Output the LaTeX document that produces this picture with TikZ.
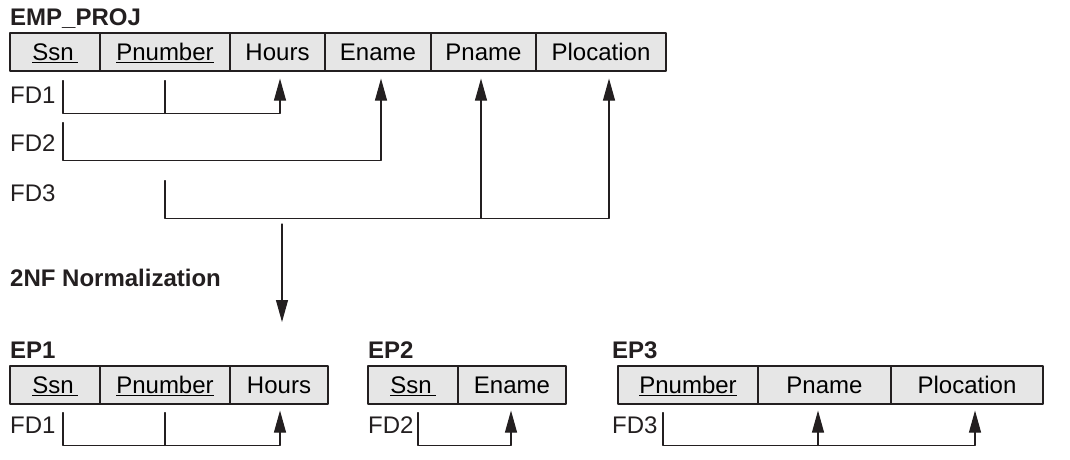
\documentclass[tikz,border=0pt]{standalone}
\usepackage{fontspec}
\setmainfont{Liberation Sans}
\usepackage{xcolor}
\usetikzlibrary{arrows.meta}
\definecolor{cellgray}{HTML}{E6E6E6}
\definecolor{ink}{HTML}{231F20}
\tikzset{
  cell/.style={draw=ink, fill=cellgray, line width=1.1pt, minimum height=38pt, inner sep=0pt,
    text height=17pt, text depth=0pt, font=\fontsize{24}{27}\selectfont},
  lbl/.style={anchor=base west, inner sep=0pt, text=ink, font=\fontsize{24}{27}\selectfont},
  ttl/.style={lbl, font=\fontsize{24}{27}\selectfont\bfseries},
  fd/.style={draw=ink, line width=1.1pt},
  fdarr/.style={fd, -{Triangle[length=22pt,width=12pt]}}
}
\begin{document}
\begin{tikzpicture}[x=1pt, y=-1pt, line cap=round, line join=round]
  \useasboundingbox (0,0) rectangle (1070,460);
  \foreach \nm/\a/\b/\y/\t in {s1/10/100/52/\underline{Ssn\,},p1/100/230/52/\underline{Pnumber},
      h1/230/325/52/Hours,e1/325/431/52/Ename,n1/431/536/52/Pname,l1/536/666/52/Plocation,
      s2/10/100/385/\underline{Ssn\,},p2/100/230/385/\underline{Pnumber},h2/230/328/385/Hours,
      s3/368/458/385/\underline{Ssn\,},e3/458/566/385/Ename,
      p3/618/758/385/\underline{Pnumber},n3/758/891/385/Pname,l3/891/1043/385/Plocation} {
    \pgfmathsetmacro{\w}{\b-\a}
    \pgfmathsetmacro{\c}{(\a+\b)/2}
    \node[cell, minimum width=\w pt] (\nm) at (\c, \y) {\t};
  }
  \node[ttl] (emptitle) at (10,26) {EMP\_PROJ};
  \node[ttl] (ep1title) at (10,358) {EP1};
  \node[ttl] (ep2title) at (368,358) {EP2};
  \node[ttl] (ep3title) at (612,358) {EP3};
  \node[lbl] (fd1a) at (10,103) {FD1};
  \node[lbl] (fd2a) at (10,151) {FD2};
  \node[lbl] (fd3a) at (10,201) {FD3};
  \node[lbl] (fd1b) at (10,433) {FD1};
  \node[lbl] (fd2b) at (368,433) {FD2};
  \node[lbl] (fd3b) at (612,433) {FD3};
  % EMP_PROJ dependencies
  \draw[fdarr] ([shift={(8,9)}]s1.south) -- ([shift={(8,42)}]s1.south) -| ([shift={(2.5,7)}]h1.south);
  \draw[fd] ([shift={(0,9)}]p1.south) -- ([shift={(0,42)}]p1.south);
  \draw[fdarr] ([shift={(8,51)}]s1.south) -- ([shift={(8,89)}]s1.south) -| ([shift={(3,7)}]e1.south);
  \draw[fdarr] ([shift={(0,109)}]p1.south) -- ([shift={(0,147)}]p1.south) -| ([shift={(8,7)}]l1.south);
  \draw[fdarr] ([shift={(-2.5,147)}]n1.south) -- ([shift={(-2.5,7)}]n1.south);
  % normalization
  \coordinate (normtop) at (282,224);
  \coordinate (normbot) at (282,322);
  \draw[fdarr] (normtop) -- (normbot);
  \node[ttl] (normtitle) at (10,286) {2NF Normalization};
  % decomposed relations
  \draw[fdarr] ([shift={(8,8)}]s2.south) -- ([shift={(8,41)}]s2.south) -| ([shift={(1,6)}]h2.south);
  \draw[fd] ([shift={(0,8)}]p2.south) -- ([shift={(0,41)}]p2.south);
  \draw[fdarr] ([shift={(5,8)}]s3.south) -- ([shift={(5,41)}]s3.south) -| ([shift={(-1,6)}]e3.south);
  \draw[fdarr] ([shift={(-25,8)}]p3.south) -- ([shift={(-25,41)}]p3.south) -| ([shift={(8,6)}]l3.south);
  \draw[fdarr] ([shift={(-6.5,41)}]n3.south) -- ([shift={(-6.5,6)}]n3.south);
\end{tikzpicture}
\end{document}
